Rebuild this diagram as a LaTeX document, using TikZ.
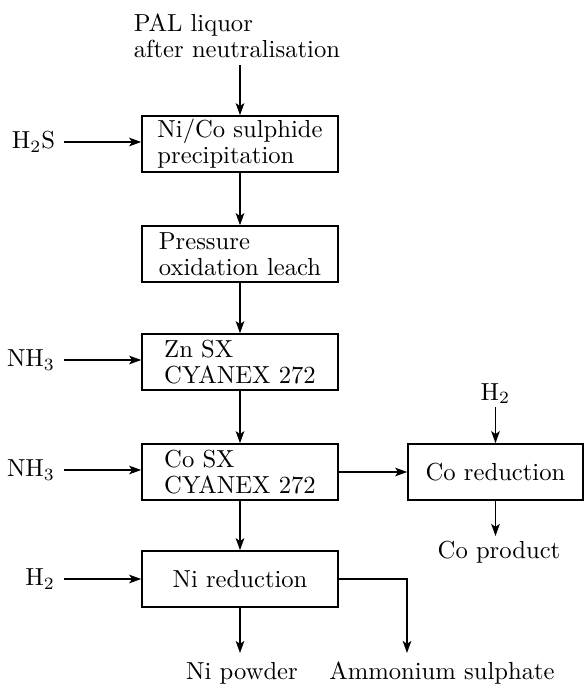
\documentclass[tikz,border=0pt]{standalone}
\usetikzlibrary{arrows.meta}
\begin{document}
\begin{tikzpicture}[x=0.406pt,y=-0.406pt,
  font=\fontsize{10}{10.56}\selectfont,
  line width=0.65pt,
  arr/.style={-{Stealth[length=4.9pt,width=3.5pt,inset=1.2pt]}},
  proc/.style={draw, minimum width=79.58pt, minimum height=22.74pt, align=left, inner sep=0pt},
  lbl/.style={inner sep=0pt},
  side/.style={inner sep=0pt, anchor=east, outer xsep=3.65pt}]
\useasboundingbox (0,0) rectangle (584,684);
% main column
\node[lbl, anchor=north west, align=left] (pal) at (133,13) {PAL liquor\\after neutralisation};
\coordinate (palout) at (240,65);
\node[proc] (b1) at (240,144) {Ni/Co sulphide\\precipitation};
\node[proc] (b2) at (240,254) {Pressure\\oxidation leach};
\node[proc] (b3) at (240,362) {Zn SX\\CYANEX 272};
\node[proc] (b4) at (240,472) {Co SX\\CYANEX 272};
\node[proc] (b5) at (240,579) {Ni reduction};
\node[proc, minimum width=71.05pt] (b6) at (495.5,472) {Co reduction};
% side inputs
\node[side] (h2s) at (64,142) {H$_2$S};
\node[side] (nh3a) at (64,360) {NH$_3$};
\node[side] (nh3b) at (64,470) {NH$_3$};
\node[side] (h2a) at (64,579) {H$_2$};
\node[lbl, anchor=base] (h2b) at (495.5,400) {H$_2$};
\coordinate (h2bout) at (495.5,407);
% outputs
\coordinate (coend) at (495.5,536);
\node[lbl, anchor=base] (cop) at (499,558) {Co product};
\coordinate (niend) at (240,653);
\node[lbl, anchor=base] (nip) at (242,679) {Ni powder};
\coordinate (amend) at (407,653);
\node[lbl, anchor=base] (ams) at (442,679) {Ammonium sulphate};
% connectors
\draw[arr] (palout) -- (b1.north);
\draw[arr] (b1) -- (b2);
\draw[arr] (b2) -- (b3);
\draw[arr] (b3) -- (b4);
\draw[arr] (b4) -- (b5);
\draw[arr] (h2s.east) -- (h2s.east -| b1.west);
\draw[arr] (nh3a.east) -- (nh3a.east -| b3.west);
\draw[arr] (nh3b.east) -- (nh3b.east -| b4.west);
\draw[arr] (h2a.east) -- (h2a.east -| b5.west);
\draw[arr] (b4.east) -- (b6.west);
\draw[arr] (h2bout) -- (b6.north);
\draw[arr] (b6.south) -- (coend);
\draw[arr] (b5.south) -- (niend);
\draw[arr] (b5.east) -| (amend);
\end{tikzpicture}
\end{document}
